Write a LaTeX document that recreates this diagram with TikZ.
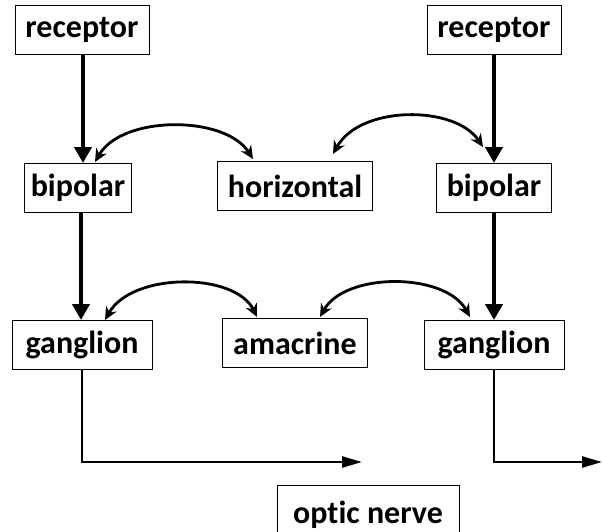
\documentclass[tikz,border=0pt]{standalone}
\usepackage{fontspec}
\setmainfont{Carlito}[Ligatures=NoCommon]
\usetikzlibrary{arrows.meta}
\tikzset{
  cell/.style={draw, line width=1pt, minimum height=49pt, inner xsep=6pt,
    font=\fontsize{32}{36}\selectfont\bfseries},
  feed/.style={line width=4.5pt, -{Triangle[length=16pt,width=17pt]}},
  link/.style={line width=2.8pt, {Stealth[length=13pt,width=12pt]}-{Stealth[length=13pt,width=12pt]}},
  nerve/.style={line width=2.8pt, -{Triangle[length=20pt,width=11pt]}}
}
\begin{document}
\begin{tikzpicture}[x=1pt,y=-1pt]
  \useasboundingbox (0,0) rectangle (602,531);
  \begin{scope}
    \clip (0,0) rectangle (602,531);
    % cells
    \node[cell, minimum width=134pt] (recL) at (82,30) {receptor};
    \node[cell, minimum width=134pt] (recR) at (494,30) {receptor};
    \node[cell, minimum width=104pt] (bipL) at (78,188) {bipolar};
    \node[cell, minimum width=155pt] (hor) at (295,186) {horizontal};
    \node[cell, minimum width=115pt] (bipR) at (494,188) {bipolar};
    \node[cell, minimum width=140pt] (ganL) at (82,345) {ganglion};
    \node[cell, minimum width=145pt] (ama) at (295,343) {amacrine};
    \node[cell, minimum width=140pt] (ganR) at (494,345) {ganglion};
    \node[cell, minimum width=182pt, minimum height=60pt] (optic) at (368,515) {\raisebox{5pt}{optic nerve}};
  \end{scope}
  % forward pathway
  \draw[feed] ([xshift=1pt]recL.south) -- ([xshift=1pt]recL.south |- bipL.north);
  \draw[feed] (recR.south) -- (recR.south |- bipR.north);
  \draw[feed] ([xshift=3pt]bipL.south) -- ([xshift=3pt]bipL.south |- ganL.north);
  \draw[feed] (bipR.south) -- (bipR.south |- ganR.north);
  % lateral connections
  \draw[link] ([xshift=17pt,yshift=1pt]bipL.north) .. controls (122,115) and (225,115) .. ([xshift=-42pt,yshift=2pt]hor.north);
  \draw[link] ([xshift=38pt,yshift=7pt]hor.north) .. controls (360,105) and (455,105) .. ([xshift=-11pt,yshift=16pt]bipR.north);
  \draw[link] ([xshift=23pt]ganL.north) .. controls (132,272) and (235,272) .. ([xshift=-38pt,yshift=1pt]ama.north);
  \draw[link] ([xshift=25pt,yshift=1pt]ama.north) .. controls (345,272) and (445,272) .. ([xshift=-24pt,yshift=3pt]ganR.north);
  % to the optic nerve
  \coordinate (outL) at (362,462);
  \coordinate (outR) at (602,462);
  \draw[nerve] (ganL.south) |- (outL);
  \draw[nerve] (ganR.south) |- (outR);
\end{tikzpicture}
\end{document}
